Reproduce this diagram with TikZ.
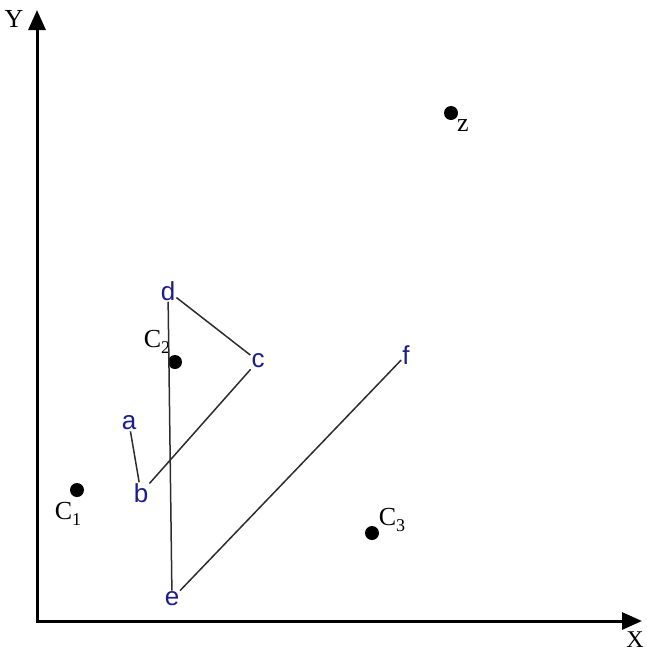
\documentclass[tikz,border=0pt]{standalone}
\usepackage{fontspec}
\setmainfont{Liberation Serif}
\newfontfamily\ptfont{Liberation Sans}
\usetikzlibrary{arrows.meta}
\definecolor{ptblue}{RGB}{28,28,140}
\definecolor{segcol}{RGB}{45,45,45}
\newcommand{\csub}[1]{\raisebox{-6pt}{\fontsize{18}{18}\selectfont #1}}
\tikzset{
  pt/.style={font=\ptfont\fontsize{26}{26}\selectfont, text=ptblue, inner sep=1pt},
  cent/.style={circle, fill=black, minimum size=14pt, inner sep=0pt},
  clbl/.style={font=\fontsize{26}{26}\selectfont, inner sep=0pt},
  seg/.style={draw=segcol, line width=1.5pt},
  axis/.style={line width=3pt, -{Triangle[length=20pt,width=17pt]}}
}
\begin{document}
\begin{tikzpicture}[x=1pt,y=-1pt]
  \useasboundingbox (0,0) rectangle (647,654);
  % axes
  \coordinate (O) at (37,621);
  \coordinate (Ytop) at (37,10);
  \coordinate (Xend) at (642,621);
  \draw[axis] (O) -- (Ytop);
  \draw[axis] ([xshift=-1.5pt]O) -- (Xend);
  \node[clbl] (ylbl) at (14,19) {Y};
  \node[clbl, font=\fontsize{24}{24}\selectfont] (xlbl) at (635,640) {X};
  % centres
  \node[cent] (C1) at (77,490) {};
  \node[cent] (C2) at (175,362) {};
  \node[cent] (C3) at (372,533) {};
  \node[cent] (Z) at (451,113) {};
  \node[clbl] at (68,514) {C\csub{1}};
  \node[clbl] at (157,342) {C\csub{2}};
  \node[clbl] at (392,520) {C\csub{3}};
  \node[clbl] at (463,126) {z};
  % points
  \node[pt] (a) at (129,423) {a};
  \node[pt] (b) at (141,493) {b};
  \node[pt] (c) at (258,361) {c};
  \node[pt] (d) at (168,291) {d};
  \node[pt] (e) at (172,599) {e};
  \node[pt] (f) at (406,355) {f};
  \draw[seg] (a) -- (b);
  \draw[seg] (b) -- (c);
  \draw[seg] (c) -- (d);
  \draw[seg] (d) -- (e);
  \draw[seg] (e) -- (f);
\end{tikzpicture}
\end{document}
